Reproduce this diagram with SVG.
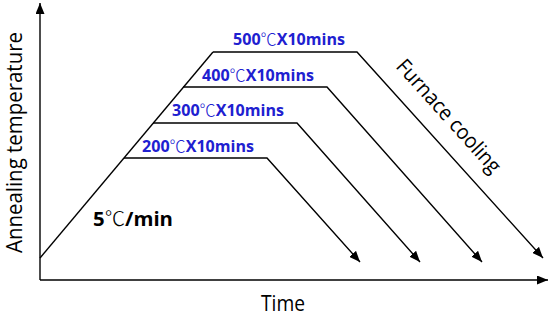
<svg xmlns="http://www.w3.org/2000/svg" width="550" height="316" viewBox="0 0 550 316">
<style>
.ln{fill:none;stroke:#000;stroke-width:1.4}
.lab{font-family:"Open Sans",Lato,"Noto Sans CJK SC",sans-serif;font-weight:bold;font-size:15.5px;fill:#2020d0}
.ax{font-family:"Open Sans",Lato,"Noto Sans CJK SC",sans-serif;font-size:21px;fill:#000}
.deg{font-family:"Noto Sans CJK SC",sans-serif;font-weight:300}
</style>
<defs>
<marker id="ah" markerUnits="userSpaceOnUse" markerWidth="11" markerHeight="9" refX="11" refY="4.5" orient="auto">
<path d="M0,0 L11,4.5 L0,9 z" fill="#000"/>
</marker>
</defs>
<rect width="550" height="316" fill="#fff"/>
<g id="connectors">
<path id="y-axis" class="ln" d="M40,280 V3" marker-end="url(#ah)"/>
<path id="x-axis" class="ln" d="M40,280 H548" marker-end="url(#ah)"/>
<path id="heating" class="ln" d="M40,258 L213,52"/>
<path id="c200" class="ln" d="M124,158 H267 L360,262" marker-end="url(#ah)"/>
<path id="c300" class="ln" d="M153,123 H297 L420,262" marker-end="url(#ah)"/>
<path id="c400" class="ln" d="M183,87 H327 L482,262" marker-end="url(#ah)"/>
<path id="c500" class="ln" d="M213,52 H357 L543,258" marker-end="url(#ah)"/>
</g>
<g id="label-500"><text class="lab" x="233" y="45" textLength="112" lengthAdjust="spacingAndGlyphs">500<tspan class="deg">℃</tspan>X10mins</text></g>
<g id="label-400"><text class="lab" x="202" y="81" textLength="112" lengthAdjust="spacingAndGlyphs">400<tspan class="deg">℃</tspan>X10mins</text></g>
<g id="label-300"><text class="lab" x="172" y="116" textLength="112" lengthAdjust="spacingAndGlyphs">300<tspan class="deg">℃</tspan>X10mins</text></g>
<g id="label-200"><text class="lab" x="142" y="152" textLength="112" lengthAdjust="spacingAndGlyphs">200<tspan class="deg">℃</tspan>X10mins</text></g>
<g id="rate"><text x="93" y="226" style="font-family:'Open Sans',Lato,'Noto Sans CJK SC',sans-serif;font-weight:bold;font-size:20px;fill:#000" textLength="80" lengthAdjust="spacingAndGlyphs">5<tspan class="deg">℃</tspan>/min</text></g>
<g id="y-label"><text class="ax" transform="translate(21.5,253) rotate(-90)" x="0" y="0" textLength="221" lengthAdjust="spacingAndGlyphs">Annealing temperature</text></g>
<g id="x-label"><text class="ax" x="261" y="311" textLength="44" lengthAdjust="spacingAndGlyphs">Time</text></g>
<g id="furnace"><text class="ax" transform="translate(395,67) rotate(48)" x="0" y="0" textLength="145" lengthAdjust="spacingAndGlyphs">Furnace cooling</text></g>
</svg>
